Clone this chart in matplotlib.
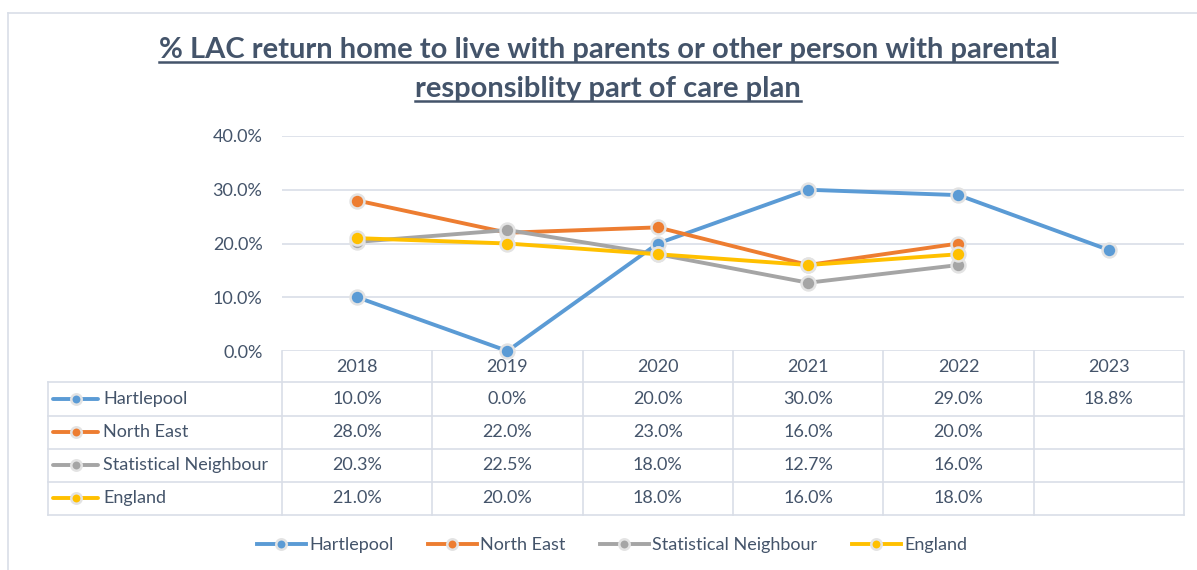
import matplotlib
matplotlib.use("Agg")
import matplotlib.pyplot as plt
from matplotlib.lines import Line2D
import numpy as np

years = ["2018", "2019", "2020", "2021", "2022", "2023"]
series_names = ["Hartlepool", "North East", "Statistical Neighbour", "England"]
hartlepool = [10.0, 0.0, 20.0, 30.0, 29.0, 18.8]
north_east = [28.0, 22.0, 23.0, 16.0, 20.0, None]
stat_neighbour = [20.3, 22.5, 18.0, 12.7, 16.0, None]
england = [21.0, 20.0, 18.0, 16.0, 18.0, None]
y_ticks = [0, 10, 20, 30, 40]
title_lines = ["% LAC return home to live with parents or other person with parental",
               "responsiblity part of care plan"]

series_values = [hartlepool, north_east, stat_neighbour, england]
colors = ["#5B9BD5", "#ED7D31", "#A5A5A5", "#FFC000"]
TXT = "#44546A"
GRID = "#D9DEE7"
FONT = "Lato"
FS = 13

W, H = 1197, 570
fig = plt.figure(figsize=(W / 100, H / 100), dpi=100)
fig.patch.set_facecolor("white")

def fx(px):
    return px / W

def fy(py):
    return 1 - py / H

# outer chart border (left and top visible)
fig.add_artist(Line2D([fx(8), fx(8)], [fy(13), 0], color=GRID, lw=1.2))
fig.add_artist(Line2D([fx(8), 1], [fy(13), fy(13)], color=GRID, lw=1.2))

# plot axes
L, R, T, B = 282, 1184, 136, 351
ax = fig.add_axes([fx(L), fy(B), fx(R - L), (B - T) / H])
ax.set_xlim(-0.5, len(years) - 0.5)
ax.set_ylim(0, 40)
for s in ax.spines.values():
    s.set_visible(False)
ax.set_xticks([])
ax.set_yticks(y_ticks)
ax.set_yticklabels([f"{v:.1f}%" for v in y_ticks], fontsize=FS, color=TXT, family=FONT)
ax.tick_params(axis="y", length=0, pad=14)
for v in y_ticks:
    ax.axhline(v, color=GRID, lw=1.2, zorder=0)

x = np.arange(len(years))
for vals, c in zip(series_values, colors):
    xs = [xi for xi, v in zip(x, vals) if v is not None]
    ys = [v for v in vals if v is not None]
    ax.plot(xs, ys, color=c, lw=2.8, marker="o", ms=10, mfc=c, mec="#E3E3E3",
            mew=1.8, zorder=3, clip_on=False)

# data table
TL, TR = 48, 1184
rows_y = [351, 382, 415.5, 448.5, 481.5, 514.5]
tax = fig.add_axes([fx(TL), fy(rows_y[-1]), fx(TR - TL), (rows_y[-1] - rows_y[0]) / H])
tax.set_xlim(TL, TR)
tax.set_ylim(rows_y[-1], rows_y[0])
tax.axis("off")
col_w = (R - L) / len(years)
col_edges = [L + i * col_w for i in range(len(years) + 1)]
for yy in rows_y[1:]:
    tax.plot([TL, TR], [yy, yy], color=GRID, lw=1.2, clip_on=False)
for xx in col_edges:
    tax.plot([xx, xx], [rows_y[0], rows_y[-1]], color=GRID, lw=1.2, clip_on=False)
tax.plot([TL, TL], [rows_y[1], rows_y[-1]], color=GRID, lw=1.2, clip_on=False)

for i, yr in enumerate(years):
    cx = (col_edges[i] + col_edges[i + 1]) / 2
    tax.text(cx, (rows_y[0] + rows_y[1]) / 2, yr, ha="center", va="center",
             fontsize=FS, color=TXT, family=FONT)
for r, (name, vals, c) in enumerate(zip(series_names, series_values, colors)):
    cy = (rows_y[r + 1] + rows_y[r + 2]) / 2
    tax.plot([53, 98], [cy, cy], color=c, lw=2.8, solid_capstyle="round", clip_on=False)
    tax.plot([76], [cy], marker="o", ms=7.5, mfc=c, mec="#E3E3E3", mew=1.8, clip_on=False)
    tax.text(103, cy, name, ha="left", va="center", fontsize=FS, color=TXT, family=FONT)
    for i, v in enumerate(vals):
        if v is None:
            continue
        cx = (col_edges[i] + col_edges[i + 1]) / 2
        tax.text(cx, cy, f"{v:.1f}%", ha="center", va="center", fontsize=FS,
                 color=TXT, family=FONT)

# title with underline
t_objs = []
for k, line in enumerate(title_lines):
    t = fig.text(fx(608), fy(50 + k * 39), line, ha="center", va="center",
                 fontsize=21, fontweight="bold", color=TXT, family=FONT)
    t_objs.append(t)
fig.canvas.draw()
rend = fig.canvas.get_renderer()
for t in t_objs:
    bb = t.get_window_extent(rend)
    yline = bb.y0 + 1
    fig.add_artist(Line2D([bb.x0 / W, bb.x1 / W], [yline / H, yline / H],
                          color=TXT, lw=1.8))

# legend
handles = [Line2D([], [], color=c, lw=2.8, marker="o", ms=7.5, mfc=c, mec="#E3E3E3", mew=1.8)
           for c in colors]
leg = fig.legend(handles, series_names, loc="center", bbox_to_anchor=(fx(612), fy(545)),
                 ncol=4, frameon=False, handlelength=2.7, columnspacing=1.9,
                 handletextpad=0.2, prop={"family": FONT, "size": FS})
for txt in leg.get_texts():
    txt.set_color(TXT)

fig.savefig("out.png", dpi=100, facecolor="white")
